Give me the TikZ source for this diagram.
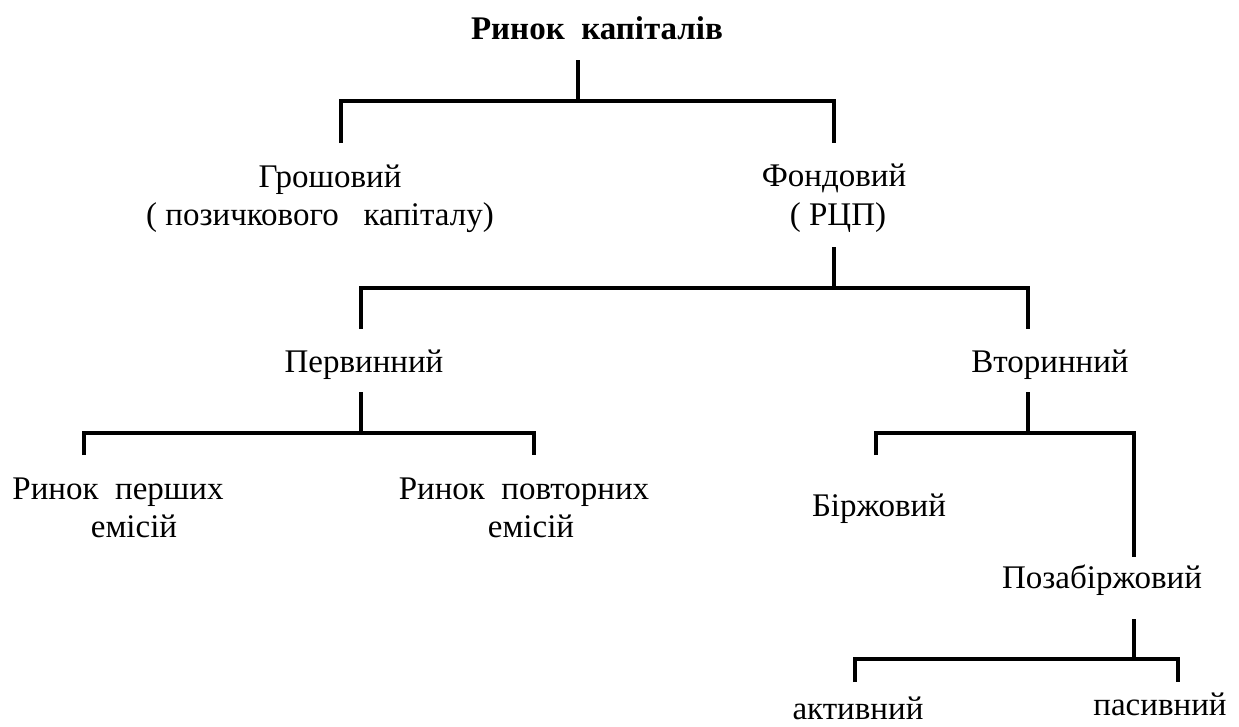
\documentclass[tikz,border=0pt]{standalone}
\usepackage{fontspec}
\setmainfont{Liberation Serif}
\begin{document}
\begin{tikzpicture}[x=1pt,y=-1pt,
  lbl/.style={anchor=base, inner sep=0pt, font=\fontsize{33}{38}\selectfont},
  ttl/.style={anchor=base, inner sep=0pt, font=\fontsize{33}{38}\selectfont\bfseries},
  conn/.style={line width=4.5pt, line join=miter, black}]
\useasboundingbox (0,0) rectangle (1239,726);
% labels
\node[ttl] (title) at (597,39) {Ринок\ \ капіталів};
\node[lbl] (grosh1) at (330,187) {Грошовий};
\node[lbl] (grosh2) at (320,225) {( позичкового\ \ \ капіталу)};
\node[lbl] (fond1) at (834,186) {Фондовий};
\node[lbl] (fond2) at (838,225) {( РЦП)};
\node[lbl] (perv) at (364,372) {Первинний};
\node[lbl] (vtor) at (1050,372) {Вторинний};
\node[lbl] (rp1) at (118,499) {Ринок\ \ перших};
\node[lbl] (rp2) at (134,537) {емісій};
\node[lbl] (rv1) at (524,499) {Ринок\ \ повторних};
\node[lbl] (rv2) at (531,537) {емісій};
\node[lbl] (birzh) at (879,516) {Біржовий};
\node[lbl] (pozab) at (1102,588) {Позабіржовий};
\node[lbl, text depth=0pt] (akt) at (858,719) {активний};
\node[lbl, text depth=0pt] (pas) at (1160,715) {пасивний};
% connector points
\coordinate (s0a) at (578,60);   \coordinate (s0b) at (578,101);
\coordinate (b0l) at (341,143);  \coordinate (b0lt) at (341,101);
\coordinate (b0rt) at (834,101); \coordinate (b0r) at (834,143);
\coordinate (s1a) at (834,247);  \coordinate (s1b) at (834,288);
\coordinate (b1l) at (361,329);  \coordinate (b1lt) at (361,288);
\coordinate (b1rt) at (1028,288);\coordinate (b1r) at (1028,329);
\coordinate (s2a) at (361,392);  \coordinate (s2b) at (361,433);
\coordinate (b2l) at (84,455);   \coordinate (b2lt) at (84,433);
\coordinate (b2rt) at (534,433); \coordinate (b2r) at (534,455);
\coordinate (s3a) at (1028,392); \coordinate (s3b) at (1028,433);
\coordinate (b3l) at (876,455);  \coordinate (b3lt) at (876,433);
\coordinate (b3rt) at (1134,433);\coordinate (b3r) at (1134,557);
\coordinate (s4a) at (1134,619); \coordinate (s4b) at (1134,659);
\coordinate (b4l) at (855,682);  \coordinate (b4lt) at (855,659);
\coordinate (b4rt) at (1178,659);\coordinate (b4r) at (1178,682);
% connectors
\draw[conn] (s0a) -- (s0b);
\draw[conn] (b0l) -- (b0lt) -- (b0rt) -- (b0r);
\draw[conn] (s1a) -- (s1b);
\draw[conn] (b1l) -- (b1lt) -- (b1rt) -- (b1r);
\draw[conn] (s2a) -- (s2b);
\draw[conn] (b2l) -- (b2lt) -- (b2rt) -- (b2r);
\draw[conn] (s3a) -- (s3b);
\draw[conn] (b3l) -- (b3lt) -- (b3rt) -- (b3r);
\draw[conn] (s4a) -- (s4b);
\draw[conn] (b4l) -- (b4lt) -- (b4rt) -- (b4r);
\end{tikzpicture}
\end{document}
